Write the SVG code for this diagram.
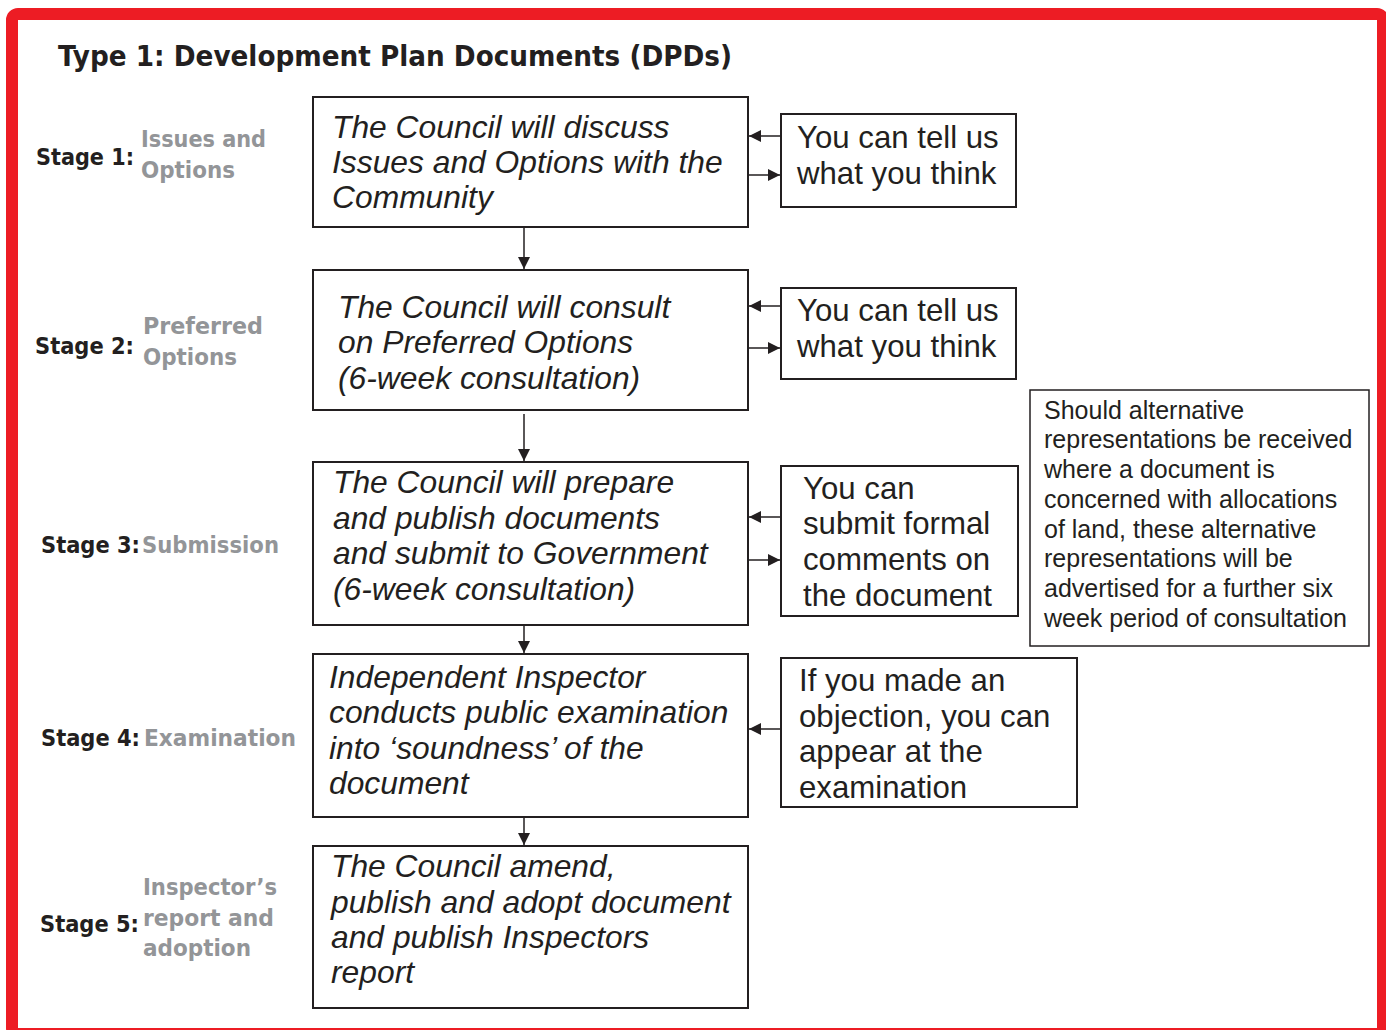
<svg xmlns="http://www.w3.org/2000/svg" width="1386" height="1030" viewBox="0 0 1386 1030">
<defs>
<style>
.frame{fill:none;stroke:#ED1C24;stroke-width:12}
.box{fill:#fff;stroke:#231F20;stroke-width:2}
.nbox{fill:#fff;stroke:#231F20;stroke-width:1.5}
.title{font-family:"DejaVu Sans",Verdana,sans-serif;font-weight:bold;font-size:28px;fill:#231F20}
.stg{font-family:"DejaVu Sans",Verdana,sans-serif;font-weight:bold;font-size:23px;fill:#231F20}
.sub{font-family:"DejaVu Sans",Verdana,sans-serif;font-weight:bold;font-size:23px;fill:#939598}
.it{font-family:"Liberation Sans",Arial,sans-serif;font-style:italic;font-size:31.8px;fill:#231F20}
.rt{font-family:"Liberation Sans",Arial,sans-serif;font-size:31.2px;fill:#231F20}
.nt{font-family:"Liberation Sans",Arial,sans-serif;font-size:25px;fill:#231F20}
.con{stroke:#231F20;stroke-width:1.5;fill:none}
</style>
<marker id="ah" viewBox="0 0 12 12" refX="12" refY="6" markerWidth="12" markerHeight="12" markerUnits="userSpaceOnUse" orient="auto">
<path d="M0,0 L12,6 L0,12 z" fill="#231F20"/>
</marker>
</defs>
<rect width="1386" height="1030" fill="#fff"/>
<rect class="frame" x="12" y="14" width="1371" height="1020" rx="6"/>
<text class="title" x="58" y="66" textLength="674" lengthAdjust="spacingAndGlyphs">Type 1: Development Plan Documents (DPDs)</text>

<g id="stage1-label">
<text class="stg" x="36" y="165" textLength="98" lengthAdjust="spacingAndGlyphs">Stage 1:</text>
<text class="sub" x="141" y="147" textLength="125" lengthAdjust="spacingAndGlyphs">Issues and</text>
<text class="sub" x="141" y="178" textLength="94" lengthAdjust="spacingAndGlyphs">Options</text>
</g>
<g id="stage2-label">
<text class="stg" x="35" y="354" textLength="99" lengthAdjust="spacingAndGlyphs">Stage 2:</text>
<text class="sub" x="143" y="334" textLength="120" lengthAdjust="spacingAndGlyphs">Preferred</text>
<text class="sub" x="143" y="365" textLength="94" lengthAdjust="spacingAndGlyphs">Options</text>
</g>
<g id="stage3-label">
<text class="stg" x="41" y="553" textLength="99" lengthAdjust="spacingAndGlyphs">Stage 3:</text>
<text class="sub" x="142" y="553" textLength="137" lengthAdjust="spacingAndGlyphs">Submission</text>
</g>
<g id="stage4-label">
<text class="stg" x="41" y="746" textLength="99" lengthAdjust="spacingAndGlyphs">Stage 4:</text>
<text class="sub" x="144" y="746" textLength="152" lengthAdjust="spacingAndGlyphs">Examination</text>
</g>
<g id="stage5-label">
<text class="stg" x="40" y="932" textLength="99" lengthAdjust="spacingAndGlyphs">Stage 5:</text>
<text class="sub" x="143" y="895" textLength="134" lengthAdjust="spacingAndGlyphs">Inspector’s</text>
<text class="sub" x="143" y="926" textLength="131" lengthAdjust="spacingAndGlyphs">report and</text>
<text class="sub" x="143" y="956" textLength="108" lengthAdjust="spacingAndGlyphs">adoption</text>
</g>

<g id="box1">
<rect class="box" x="313" y="97" width="435" height="130"/>
<text class="it" x="332" y="138">The Council will discuss</text>
<text class="it" x="332" y="173">Issues and Options with the</text>
<text class="it" x="332" y="208">Community</text>
</g>
<g id="box2">
<rect class="box" x="313" y="270" width="435" height="140"/>
<text class="it" x="338" y="318">The Council will consult</text>
<text class="it" x="338" y="353">on Preferred Options</text>
<text class="it" x="338" y="389">(6-week consultation)</text>
</g>
<g id="box3">
<rect class="box" x="313" y="462" width="435" height="163"/>
<text class="it" x="333" y="493">The Council will prepare</text>
<text class="it" x="333" y="529">and publish documents</text>
<text class="it" x="333" y="564">and submit to Government</text>
<text class="it" x="333" y="600">(6-week consultation)</text>
</g>
<g id="box4">
<rect class="box" x="313" y="654" width="435" height="163"/>
<text class="it" x="329" y="688">Independent Inspector</text>
<text class="it" x="329" y="723">conducts public examination</text>
<text class="it" x="329" y="759">into ‘soundness’ of the</text>
<text class="it" x="329" y="794">document</text>
</g>
<g id="box5">
<rect class="box" x="313" y="846" width="435" height="162"/>
<text class="it" x="331" y="877">The Council amend,</text>
<text class="it" x="331" y="913">publish and adopt document</text>
<text class="it" x="331" y="948">and publish Inspectors</text>
<text class="it" x="331" y="983">report</text>
</g>

<g id="rbox1">
<rect class="box" x="781" y="114" width="235" height="93"/>
<text class="rt" x="797" y="148">You can tell us</text>
<text class="rt" x="797" y="184">what you think</text>
</g>
<g id="rbox2">
<rect class="box" x="781" y="288" width="235" height="91"/>
<text class="rt" x="797" y="321">You can tell us</text>
<text class="rt" x="797" y="357">what you think</text>
</g>
<g id="rbox3">
<rect class="box" x="781" y="466" width="237" height="150"/>
<text class="rt" x="803" y="499">You can</text>
<text class="rt" x="803" y="534">submit formal</text>
<text class="rt" x="803" y="570">comments on</text>
<text class="rt" x="803" y="606">the document</text>
</g>
<g id="rbox4">
<rect class="box" x="781" y="658" width="296" height="149"/>
<text class="rt" x="799" y="691">If you made an</text>
<text class="rt" x="799" y="727">objection, you can</text>
<text class="rt" x="799" y="762">appear at the</text>
<text class="rt" x="799" y="798">examination</text>
</g>
<g id="note">
<rect class="nbox" x="1030" y="390" width="339" height="256"/>
<text class="nt" x="1044" y="419">Should alternative</text>
<text class="nt" x="1044" y="448">representations be received</text>
<text class="nt" x="1044" y="478">where a document is</text>
<text class="nt" x="1044" y="508">concerned with allocations</text>
<text class="nt" x="1044" y="538">of land, these alternative</text>
<text class="nt" x="1044" y="567">representations will be</text>
<text class="nt" x="1044" y="597">advertised for a further six</text>
<text class="nt" x="1044" y="627">week period of consultation</text>
</g>

<g id="connectors">
<line class="con" x1="524" y1="228" x2="524" y2="269" marker-end="url(#ah)"/>
<line class="con" x1="524" y1="414" x2="524" y2="461" marker-end="url(#ah)"/>
<line class="con" x1="524" y1="626" x2="524" y2="653" marker-end="url(#ah)"/>
<line class="con" x1="524" y1="818" x2="524" y2="845" marker-end="url(#ah)"/>
<line class="con" x1="780" y1="136" x2="749" y2="136" marker-end="url(#ah)"/>
<line class="con" x1="749" y1="175" x2="780" y2="175" marker-end="url(#ah)"/>
<line class="con" x1="780" y1="306" x2="749" y2="306" marker-end="url(#ah)"/>
<line class="con" x1="749" y1="348" x2="780" y2="348" marker-end="url(#ah)"/>
<line class="con" x1="780" y1="517" x2="749" y2="517" marker-end="url(#ah)"/>
<line class="con" x1="749" y1="560" x2="780" y2="560" marker-end="url(#ah)"/>
<line class="con" x1="780" y1="729" x2="749" y2="729" marker-end="url(#ah)"/>
</g>
</svg>
